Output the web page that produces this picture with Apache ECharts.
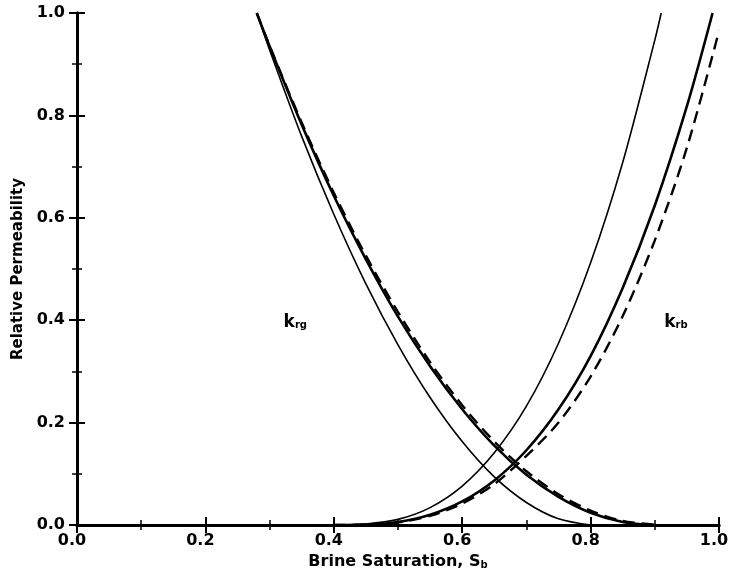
<!DOCTYPE html>
<html>
<head>
<meta charset="utf-8">
<script src="https://cdn.jsdelivr.net/npm/echarts@6/dist/echarts.min.js"></script>
<style>html,body{margin:0;padding:0;background:#fff}#c{width:730px;height:577px}</style>
</head>
<body>
<div id="c"></div>
<script>
// ---- data ----
var xTicks = [0, 0.2, 0.4, 0.6, 0.8, 1.0];
var yTicks = [0, 0.2, 0.4, 0.6, 0.8, 1.0];

var krgThinS  = [0.28, 0.30, 0.35, 0.40, 0.45, 0.50, 0.55, 0.60, 0.65, 0.70, 0.75, 0.80];
var krgThinK  = [1.00, 0.928, 0.759, 0.607, 0.471, 0.352, 0.249, 0.163, 0.094, 0.044, 0.012, 0.0];

var krgSolidS = [0.28, 0.30, 0.35, 0.40, 0.45, 0.50, 0.55, 0.60, 0.65, 0.70, 0.75, 0.80, 0.85, 0.90];
var krgSolidK = [1.00, 0.935, 0.782, 0.643, 0.519, 0.407, 0.310, 0.226, 0.155, 0.098, 0.055, 0.024, 0.006, 0.0];

var krgDashS  = [0.28, 0.30, 0.35, 0.40, 0.45, 0.50, 0.55, 0.60, 0.65, 0.70, 0.75, 0.80, 0.85, 0.905];
var krgDashK  = [1.00, 0.936, 0.786, 0.649, 0.526, 0.416, 0.318, 0.234, 0.163, 0.105, 0.060, 0.028, 0.008, 0.0];

var krbThinS  = [0.40, 0.45, 0.50, 0.55, 0.60, 0.65, 0.70, 0.75, 0.80, 0.85, 0.90, 0.91];
var krbThinK  = [0.0, 0.002, 0.011, 0.034, 0.076, 0.141, 0.232, 0.355, 0.512, 0.708, 0.947, 1.0];

var krbSolidS = [0.40, 0.45, 0.50, 0.55, 0.60, 0.65, 0.70, 0.75, 0.80, 0.85, 0.90, 0.95, 0.99];
var krbSolidK = [0.0, 0.001, 0.006, 0.020, 0.046, 0.087, 0.146, 0.226, 0.330, 0.463, 0.624, 0.818, 1.0];

var krbDashS  = [0.40, 0.45, 0.50, 0.55, 0.60, 0.65, 0.70, 0.75, 0.80, 0.85, 0.90, 0.95, 1.00];
var krbDashK  = [0.0, 0.001, 0.005, 0.018, 0.042, 0.080, 0.135, 0.200, 0.290, 0.408, 0.556, 0.737, 0.965];

var labelNames = ['krg', 'krb'];
var labelS = [0.34, 0.933];
var labelK = [0.396, 0.396];

// ---- build ----
function pairs(xs, ys) { return xs.map(function (x, i) { return [x, ys[i]]; }); }
var FONT = '"DejaVu Sans", sans-serif';

function lineSeries(name, xs, ys, width, type) {
  return {
    name: name, type: 'line', data: pairs(xs, ys), smooth: 0.3,
    showSymbol: false, symbol: 'none', silent: true, clip: true,
    lineStyle: { color: '#000', width: width, type: type }
  };
}

var chart = echarts.init(document.getElementById('c'), null, { renderer: 'canvas' });

var axisCommon = {
  type: 'value', min: 0, max: 1, interval: 0.2,
  splitLine: { show: false },
  axisLine: { show: true, lineStyle: { color: '#000', width: 3 } },
  axisTick: { show: true, inside: true, length: 8, lineStyle: { color: '#000', width: 2 } },
  minorTick: { show: true, splitNumber: 2, length: 5, lineStyle: { color: '#000', width: 1.5 } }
};

function fmt(v) { return v.toFixed(1); }

var option = {
  animation: false,
  backgroundColor: '#fff',
  grid: { left: 77, right: 11, top: 13, bottom: 52, containLabel: false, outerBoundsMode: 'none' },
  xAxis: [
    Object.assign({}, axisCommon, {
      position: 'bottom',
      axisLabel: { show: true, formatter: fmt, color: '#000', fontFamily: FONT, fontWeight: 'bold', fontSize: 16, margin: 8, padding: [0, 10, 0, 0] },
      name: '{a|Brine Saturation, S}{s|b}',
      nameLocation: 'middle', nameGap: 28,
      nameTextStyle: {
        rich: {
          a: { fontFamily: FONT, fontWeight: 'bold', fontSize: 16, color: '#000' },
          s: { fontFamily: FONT, fontWeight: 'bold', fontSize: 10, color: '#000', verticalAlign: 'bottom', padding: [7, 0, 0, 0] }
        }
      }
    }),
    Object.assign({}, axisCommon, { position: 'top', axisLabel: { show: false } })
  ],
  yAxis: [
    Object.assign({}, axisCommon, {
      position: 'left',
      axisLabel: { show: true, formatter: fmt, color: '#000', fontFamily: FONT, fontWeight: 'bold', fontSize: 16, margin: 12 },
      name: 'Relative Permeability',
      nameLocation: 'middle', nameGap: 41, nameRotate: 90,
      nameTextStyle: { fontFamily: FONT, fontWeight: 'bold', fontSize: 15, color: '#000' }
    }),
    Object.assign({}, axisCommon, { position: 'right', axisLabel: { show: false } })
  ],
  series: [
    lineSeries('krg thin', krgThinS, krgThinK, 1.6, 'solid'),
    lineSeries('krg solid', krgSolidS, krgSolidK, 2.6, 'solid'),
    lineSeries('krg dashed', krgDashS, krgDashK, 2.4, [12, 7]),
    lineSeries('krb thin', krbThinS, krbThinK, 1.6, 'solid'),
    lineSeries('krb solid', krbSolidS, krbSolidK, 2.6, 'solid'),
    lineSeries('krb dashed', krbDashS, krbDashK, 2.4, [12, 7]),
    {
      type: 'scatter', symbolSize: 0, silent: true,
      data: labelNames.map(function (n, i) { return { name: n, value: [labelS[i], labelK[i]] }; }),
      label: {
        show: true, position: 'inside', color: '#000', opacity: 1,
        formatter: function (p) { return '{k|k}{s|' + p.name.slice(1) + '}'; },
        rich: {
          k: { fontFamily: FONT, fontWeight: 'bold', fontSize: 17, color: '#000' },
          s: { fontFamily: FONT, fontWeight: 'bold', fontSize: 10, color: '#000', verticalAlign: 'bottom', padding: [7, 0, 0, 0] }
        }
      }
    }
  ]
};
chart.setOption(option);
</script>
</body>
</html>
